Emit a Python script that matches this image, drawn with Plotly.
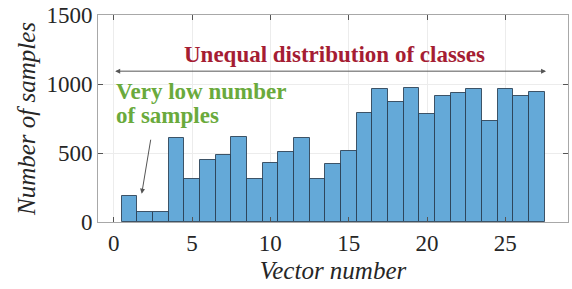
import plotly.graph_objects as go

vectors = list(range(1, 28))
samples = [186, 76, 70, 608, 312, 446, 486, 618, 315, 427, 507, 606, 312, 420, 513,
           793, 961, 871, 968, 784, 913, 934, 962, 734, 963, 913, 941]
x_ticks = [0, 5, 10, 15, 20, 25]
y_ticks = [0, 500, 1000, 1500]

FONT = "'Liberation Serif', 'Times New Roman', 'DejaVu Serif', serif"

fig = go.Figure()
fig.add_trace(go.Bar(
    x=vectors, y=samples, width=1,
    marker=dict(color="#64a9d8", line=dict(color="rgba(40,60,80,0.85)", width=1)),
    showlegend=False,
))

fig.update_layout(
    width=572, height=289,
    margin=dict(l=98, r=3, t=13, b=67),
    plot_bgcolor="white", paper_bgcolor="white",
    font=dict(family=FONT, size=23, color="#262626"),
    bargap=0,
)
fig.update_xaxes(
    range=[-1, 29], tickvals=x_ticks, ticks="inside", ticklen=5, tickcolor="#555",
    showline=True, linecolor="#a8a8a8", linewidth=1, mirror="ticks",
    showgrid=True, gridcolor="#ececec", zeroline=False,
    title=dict(text="<i>Vector number</i>", font=dict(size=25), standoff=6),
)
fig.update_yaxes(
    range=[0, 1500], tickvals=y_ticks, ticks="inside", ticklen=5, tickcolor="#555",
    showline=True, linecolor="#a8a8a8", linewidth=1, mirror="ticks",
    showgrid=True, gridcolor="#ececec", zeroline=False,
    title=dict(text="<i>Number of samples</i>", font=dict(size=25), standoff=3),
)

# double-headed arrow spanning classes
fig.add_annotation(
    x=27.6, y=1093, ax=0, ay=1093, xref="x", yref="y", axref="x", ayref="y",
    text="", showarrow=True, arrowhead=2, arrowside="end+start", arrowsize=1,
    arrowwidth=1, arrowcolor="#555",
)
fig.add_annotation(
    x=14.1, y=1215, xref="x", yref="y", showarrow=False,
    text="<b>Unequal distribution of classes</b>",
    font=dict(family=FONT, size=23, color="#a51d33"),
)
fig.add_annotation(
    x=0.05, y=945, xref="x", yref="y", showarrow=False, xanchor="left", yanchor="middle",
    text="<b>Very low number</b>",
    font=dict(family=FONT, size=23, color="#6aaa3c"),
)
fig.add_annotation(
    x=0.05, y=770, xref="x", yref="y", showarrow=False, xanchor="left", yanchor="middle",
    text="<b>of samples</b>",
    font=dict(family=FONT, size=23, color="#6aaa3c"),
)
# arrow pointing at low bars
fig.add_annotation(
    x=1.79, y=205, ax=2.38, ay=607, xref="x", yref="y", axref="x", ayref="y",
    text="", showarrow=True, arrowhead=2, arrowsize=1, arrowwidth=1, arrowcolor="#555",
)

fig.write_html("out.html", config={"displayModeBar": False},
               post_script="document.body.style.margin='0';")
